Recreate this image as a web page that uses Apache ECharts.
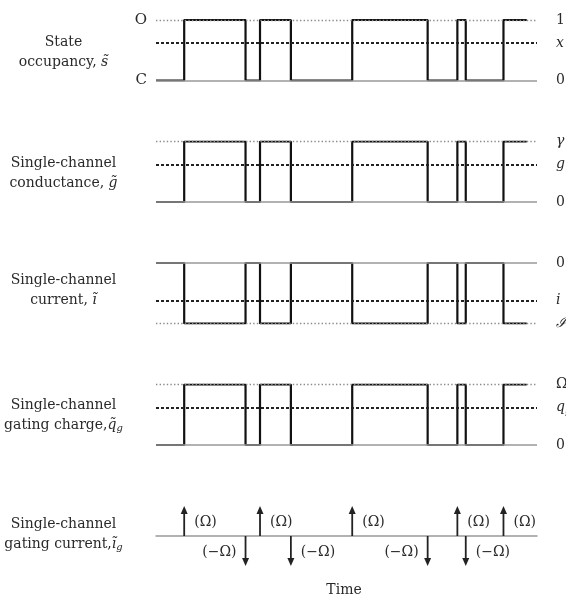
<!DOCTYPE html>
<html><head><meta charset="utf-8">
<script src="https://cdn.jsdelivr.net/npm/echarts@6/dist/echarts.min.js"></script>
<style>html,body{margin:0;padding:0;background:#fff}#c{width:566px;height:600px}</style>
</head><body><div id="c"></div>
<script>
// ---------- data ----------
const timeRange = [0, 100];
const transitionTimes = [7.4, 23.5, 27.3, 35.4, 51.5, 71.3, 79.1, 81.3, 91.2];
const traceEnd = 97.3;
const initialOpen = 0;
const meanOpenFraction = 0.62;

const panelTitles = [
  '{a|State}\n{a|occupancy, }{it|s̃}',
  '{a|Single-channel}\n{a|conductance, }{it|g̃}',
  '{a|Single-channel}\n{a|current, }{it|ĩ}',
  '{a|Single-channel}\n{a|gating charge,}{it|q̃}{sub|g}',
  '{a|Single-channel}\n{a|gating current,}{it|ĩ}{sub|g}'
];
const openValues = [1, 1, -1, 1];
const openLabels = ['{a|1}', '{it|γ}', '{it|ℐ}', '{a|Ω}'];
const meanLabels = ['{it|x}', '{it|g}', '{it|i}', '{it|q}{sub|g}'];
const closedLabels = ['{a|0}', '{a|0}', '{a|0}', '{a|0}'];
const stateAxisLabels = ['C', 'O'];
const upLabel = '(Ω)';
const downLabel = '(−Ω)';
const arrowLabelSide = ['right', 'left', 'right', 'right', 'right', 'left', 'right', 'right', 'right'];
const timeLabel = 'Time';

// ---------- layout ----------
const FONT = 'DejaVu Serif';
const TXT = '#2a2a2a';
const gridTops = [20, 141.5, 263, 384.5];
const gridH = 60.5;
const titleTops = [32.7, 153, 270, 395, 514];

const rich = {
  a: {fontFamily: FONT, fontSize: 14, fontWeight: 'normal', color: TXT, lineHeight: 20},
  it: {fontFamily: FONT, fontSize: 14, fontWeight: 'normal', fontStyle: 'italic', color: TXT, lineHeight: 20},
  sub: {fontFamily: FONT, fontSize: 10, fontWeight: 'normal', fontStyle: 'italic', color: TXT, lineHeight: 20, padding: [7, 0, 0, 0]}
};

function traceData(openVal) {
  const pts = [];
  let s = initialOpen;
  pts.push([timeRange[0], s * openVal]);
  transitionTimes.forEach(t => {
    pts.push([t, s * openVal]);
    s = 1 - s;
    pts.push([t, s * openVal]);
  });
  pts.push([traceEnd, s * openVal]);
  return pts;
}

const grid = [], xAxis = [], yAxis = [], series = [], title = [];
for (let p = 0; p < 4; p++) {
  grid.push({left: 156, right: 29, top: gridTops[p], height: gridH, outerBoundsMode: 'none', containLabel: false});
  xAxis.push({type: 'value', gridIndex: p, min: timeRange[0], max: timeRange[1], show: false});
  const ov = openValues[p];
  yAxis.push({
    type: 'value', gridIndex: p,
    min: Math.min(0, ov), max: Math.max(0, ov), interval: 1,
    show: p === 0,
    axisLine: {show: false}, axisTick: {show: false}, splitLine: {show: false},
    axisLabel: {show: p === 0, margin: 9, fontFamily: FONT, fontSize: 15, color: TXT,
      formatter: v => stateAxisLabels[v]}
  });
  series.push({
    type: 'line', xAxisIndex: p, yAxisIndex: p, data: [], z: 1, silent: true,
    markLine: {
      symbol: 'none', silent: true, animation: false,
      label: {position: 'end', distance: 19, rich: rich},
      data: [
        {yAxis: 0, lineStyle: {color: '#999', width: 1.5, type: 'solid'}, label: {formatter: closedLabels[p]}},
        {yAxis: ov, lineStyle: {color: '#8a8a8a', width: 1.4, type: [1.4, 2.2]}, label: {formatter: openLabels[p]}},
        {yAxis: ov * meanOpenFraction, lineStyle: {color: '#222', width: 2, type: [3, 2]}, label: {formatter: meanLabels[p]}}
      ]
    }
  });
  series.push({
    type: 'line', xAxisIndex: p, yAxisIndex: p, data: traceData(ov), z: 3,
    showSymbol: false, symbol: 'none', animation: false,
    lineStyle: {color: '#111', width: 2.2}
  });
}

// gating current panel
grid.push({left: 156, right: 29, top: 506, height: 60, outerBoundsMode: 'none', containLabel: false});
xAxis.push({
  type: 'value', gridIndex: 4, min: timeRange[0], max: timeRange[1],
  axisLine: {show: true, onZero: true, lineStyle: {color: '#999', width: 1.5}},
  axisTick: {show: false}, axisLabel: {show: false}, splitLine: {show: false}
});
yAxis.push({type: 'value', gridIndex: 4, min: -1, max: 1, show: false});

const arrowData = transitionTimes.map((t, i) => [t, (initialOpen + i) % 2 === 0 ? 1 : -1]);
series.push({
  type: 'custom', xAxisIndex: 4, yAxisIndex: 4, data: arrowData, z: 3, animation: false,
  renderItem: function (params, api) {
    const t = api.value(0), dir = api.value(1);
    const p0 = api.coord([t, 0]);
    const p1 = api.coord([t, dir]);
    const d = dir > 0 ? 1 : -1;
    const head = 8, hw = 3.5;
    const baseY = p1[1] + d * head;
    const side = arrowLabelSide[params.dataIndex];
    const midY = (p0[1] + p1[1]) / 2 + 1;
    return {
      type: 'group',
      children: [
        {type: 'line', shape: {x1: p0[0], y1: p0[1], x2: p1[0], y2: baseY},
          style: {stroke: '#222', lineWidth: 1.8}},
        {type: 'polygon', shape: {points: [[p1[0], p1[1]], [p1[0] - hw, baseY], [p1[0] + hw, baseY]]},
          style: {fill: '#222'}},
        {type: 'text', x: p1[0] + (side === 'right' ? 10 : -9), y: midY,
          style: {text: dir > 0 ? upLabel : downLabel, fill: TXT,
            font: '14px "' + FONT + '"', align: side === 'right' ? 'left' : 'right', verticalAlign: 'middle'}}
      ]
    };
  }
});

for (let p = 0; p < 5; p++) {
  title.push({
    text: panelTitles[p], left: 63.5, top: titleTops[p], textAlign: 'center', padding: 0,
    textStyle: {rich: rich, lineHeight: 20, fontWeight: 'normal'}
  });
}
title.push({
  text: timeLabel, left: 344, top: 581, textAlign: 'center', padding: 0,
  textStyle: {fontFamily: FONT, fontSize: 14, fontWeight: 'normal', color: TXT, lineHeight: 18}
});

const chart = echarts.init(document.getElementById('c'), null, {renderer: 'canvas'});
chart.setOption({
  backgroundColor: '#fff',
  animation: false,
  title: title,
  grid: grid,
  xAxis: xAxis,
  yAxis: yAxis,
  series: series
});
</script></body></html>
